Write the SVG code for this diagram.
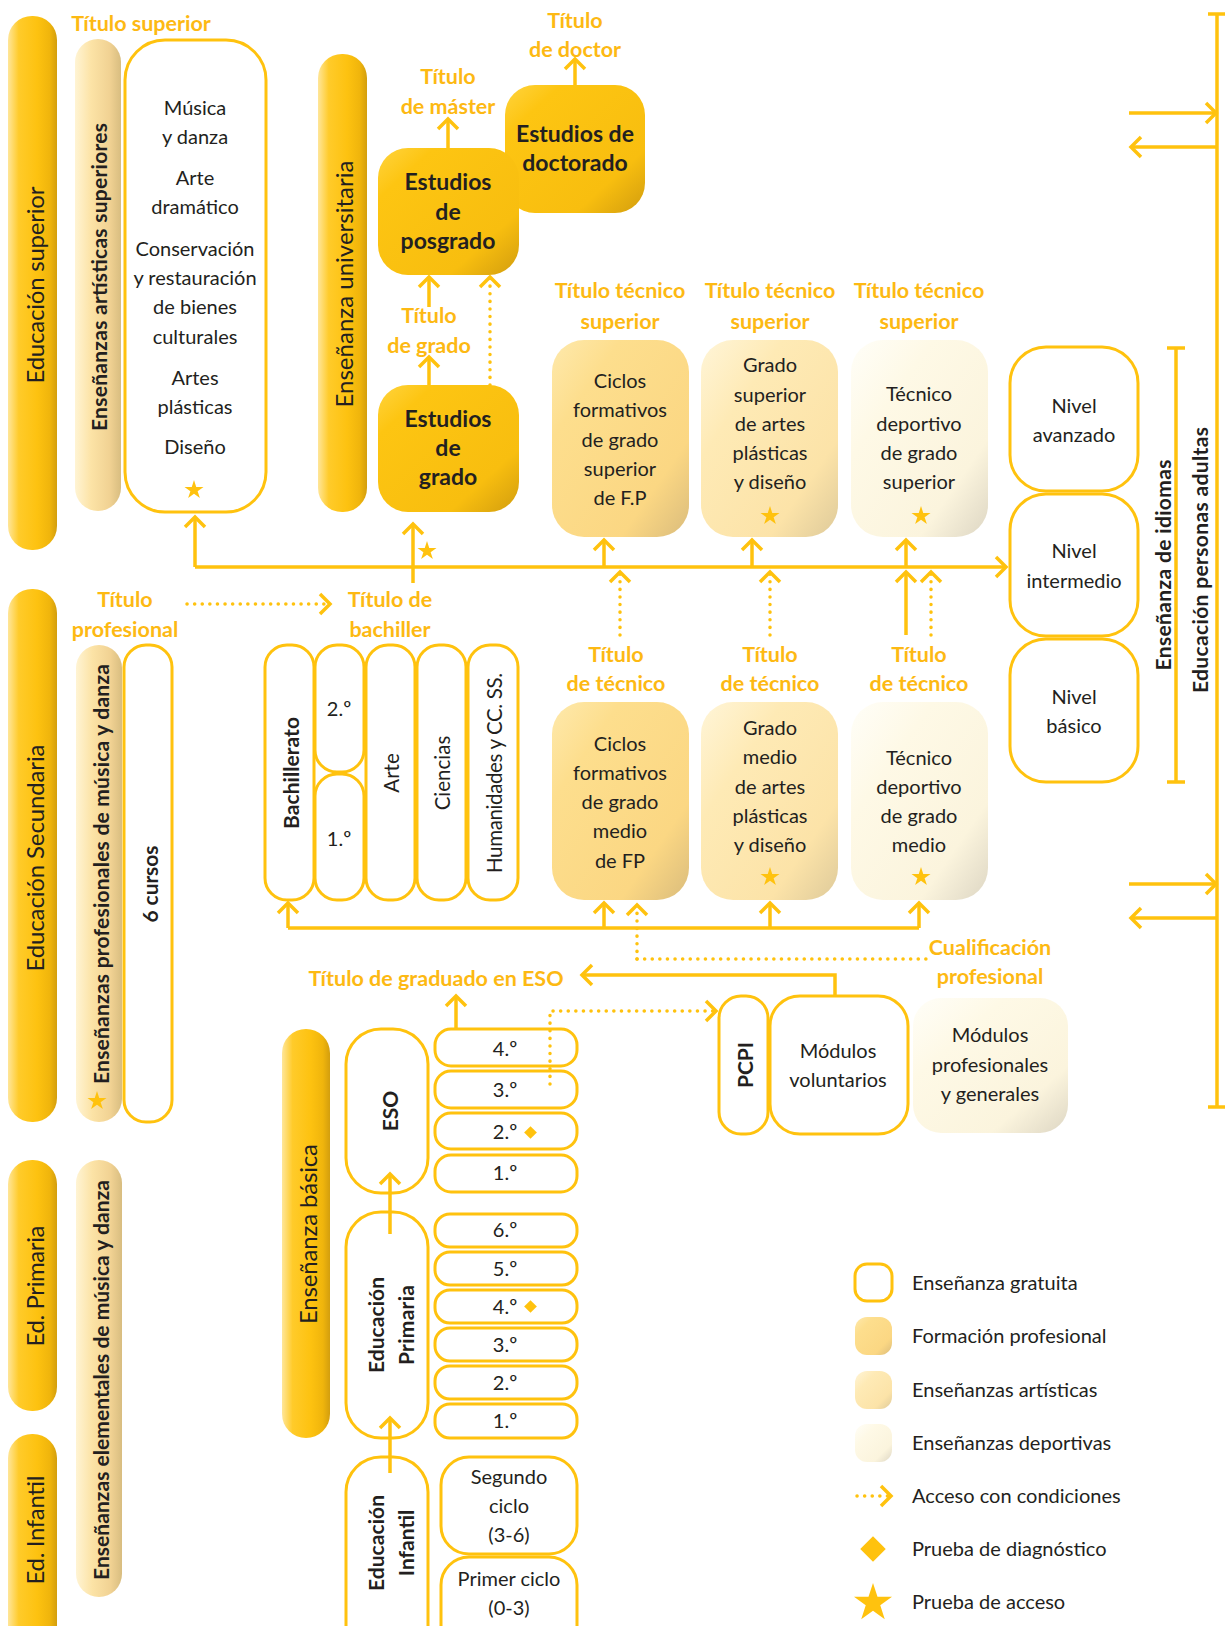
<svg xmlns="http://www.w3.org/2000/svg" width="1225" height="1626" viewBox="0 0 1225 1626">
<style>
text{font-family:Lato,"Open Sans","Liberation Sans",sans-serif}
.t{font-size:20px;fill:#231F20;text-anchor:middle}
.tb{font-size:23px;font-weight:700;fill:#231F20;text-anchor:middle}
.lb{font-size:21.5px;font-weight:700;fill:#FDB913;text-anchor:middle}
.vb{font-size:24px;fill:#231F20;text-anchor:middle;dominant-baseline:central}
.vs{font-size:21px;font-weight:700;fill:#231F20;text-anchor:middle;dominant-baseline:central}
.vr{font-size:20.5px;fill:#231F20;text-anchor:middle;dominant-baseline:central}
.box{fill:#fff;stroke:#FFC20E;stroke-width:3}
.con{fill:none;stroke:#FFC20E;stroke-width:3.5}
.dot{stroke-dasharray:0.1 7.5;stroke-linecap:round}
.st{fill:#FFC20E}
</style>
<defs>
<linearGradient id="gBar" x1="0" y1="0" x2="1" y2="0">
<stop offset="0" stop-color="#FFE69A"/><stop offset="0.22" stop-color="#FFCB2A"/><stop offset="0.6" stop-color="#FDC210"/><stop offset="0.85" stop-color="#F0B50C"/><stop offset="1" stop-color="#D39E0E"/>
</linearGradient>
<linearGradient id="gArtBar" x1="0" y1="0" x2="1" y2="0">
<stop offset="0" stop-color="#FFF4D4"/><stop offset="0.35" stop-color="#FCE3A6"/><stop offset="0.75" stop-color="#F1D293"/><stop offset="1" stop-color="#D8BD80"/>
</linearGradient>
<linearGradient id="gGold" x1="0" y1="0" x2="1" y2="1">
<stop offset="0" stop-color="#FFD43F"/><stop offset="0.2" stop-color="#FDC512"/><stop offset="0.75" stop-color="#F8BE0F"/><stop offset="1" stop-color="#D29D0E"/>
</linearGradient>
<linearGradient id="gFP" x1="0" y1="0" x2="1" y2="1">
<stop offset="0" stop-color="#FEE9AC"/><stop offset="0.25" stop-color="#FDDE8D"/><stop offset="0.75" stop-color="#FBD783"/><stop offset="1" stop-color="#DABC7C"/>
</linearGradient>
<linearGradient id="gArt" x1="0" y1="0" x2="1" y2="1">
<stop offset="0" stop-color="#FFF5D8"/><stop offset="0.3" stop-color="#FEEAB5"/><stop offset="0.75" stop-color="#FCE3A8"/><stop offset="1" stop-color="#DECA9A"/>
</linearGradient>
<linearGradient id="gSport" x1="0" y1="0" x2="1" y2="1">
<stop offset="0" stop-color="#FFFEF8"/><stop offset="0.3" stop-color="#FEF9E6"/><stop offset="0.75" stop-color="#FBF4DD"/><stop offset="1" stop-color="#DDD6C3"/>
</linearGradient>
<marker id="ah" viewBox="-13 -13 16 26" markerWidth="16" markerHeight="26" refX="0" refY="0" orient="auto" markerUnits="userSpaceOnUse">
<path d="M-10,-10 L0,0 L-10,10" fill="none" stroke="#FFC20E" stroke-width="3.5"/>
</marker>
<path id="star" d="M0,-10 L2.245,-3.09 L9.511,-3.09 L3.633,1.18 L5.878,8.09 L0,3.82 L-5.878,8.09 L-3.633,1.18 L-9.511,-3.09 L-2.245,-3.09 Z"/>
</defs>

<!-- stage bars -->
<g id="bar-superior"><rect x="8" y="16" width="49" height="534" rx="24" fill="url(#gBar)"/><text class="vb" transform="translate(34,285) rotate(-90)" textLength="197">Educación superior</text></g>
<g id="bar-secundaria"><rect x="8" y="589" width="49" height="533" rx="24" fill="url(#gBar)"/><text class="vb" transform="translate(34,858) rotate(-90)" textLength="227">Educación Secundaria</text></g>
<g id="bar-primaria"><rect x="8" y="1160" width="49" height="251" rx="24" fill="url(#gBar)"/><text class="vb" transform="translate(34,1286) rotate(-90)" textLength="121">Ed. Primaria</text></g>
<g id="bar-infantil"><rect x="8" y="1434" width="49" height="230" rx="24" fill="url(#gBar)"/><text class="vb" transform="translate(34,1530) rotate(-90)" textLength="109">Ed. Infantil</text></g>
<g id="bar-art-sup"><rect x="75" y="39" width="46" height="472" rx="23" fill="url(#gArtBar)"/><text class="vs" transform="translate(98,277) rotate(-90)" textLength="308">Enseñanzas artísticas superiores</text></g>
<g id="bar-art-prof"><rect x="76" y="645" width="46" height="477" rx="23" fill="url(#gArtBar)"/><text class="vs" transform="translate(100,874) rotate(-90)" textLength="420">Enseñanzas profesionales de música y danza</text><use href="#star" class="st" transform="translate(97,1101)"/></g>
<g id="bar-art-elem"><rect x="76" y="1160" width="46" height="437" rx="23" fill="url(#gArtBar)"/><text class="vs" transform="translate(100,1380) rotate(-90)" textLength="400">Enseñanzas elementales de música y danza</text></g>
<g id="bar-universitaria"><rect x="318" y="54" width="49" height="458" rx="24" fill="url(#gBar)"/><text class="vb" transform="translate(343,284) rotate(-90)" textLength="247">Enseñanza universitaria</text></g>
<g id="bar-basica"><rect x="282" y="1029" width="48" height="409" rx="24" fill="url(#gBar)"/><text class="vb" transform="translate(307,1234) rotate(-90)" textLength="180">Enseñanza básica</text></g>

<!-- labels -->
<g id="labels">
<text class="lb" x="141" y="31">Título superior</text>
<text class="lb" x="575" y="28">Título</text><text class="lb" x="575" y="57">de doctor</text>
<text class="lb" x="448" y="84">Título</text><text class="lb" x="448" y="114">de máster</text>
<text class="lb" x="429" y="323">Título</text><text class="lb" x="429" y="353">de grado</text>
<text class="lb" x="620" y="298">Título técnico</text><text class="lb" x="620" y="329">superior</text>
<text class="lb" x="770" y="298">Título técnico</text><text class="lb" x="770" y="329">superior</text>
<text class="lb" x="919" y="298">Título técnico</text><text class="lb" x="919" y="329">superior</text>
<text class="lb" x="125" y="607">Título</text><text class="lb" x="125" y="637">profesional</text>
<text class="lb" x="390" y="607">Título de</text><text class="lb" x="390" y="637">bachiller</text>
<text class="lb" x="616" y="662">Título</text><text class="lb" x="616" y="691">de técnico</text>
<text class="lb" x="770" y="662">Título</text><text class="lb" x="770" y="691">de técnico</text>
<text class="lb" x="919" y="662">Título</text><text class="lb" x="919" y="691">de técnico</text>
<text class="lb" x="990" y="955">Cualificación</text><text class="lb" x="990" y="984">profesional</text>
<text class="lb" x="436" y="986">Título de graduado en ESO</text>
</g>

<!-- superior -->
<g id="artisticas-superiores"><rect class="box" x="125" y="40" width="141" height="472" rx="40"/>
<text class="t" x="195" y="115">Música</text><text class="t" x="195" y="144">y danza</text>
<text class="t" x="195" y="185">Arte</text><text class="t" x="195" y="214">dramático</text>
<text class="t" x="195" y="256">Conservación</text><text class="t" x="195" y="285">y restauración</text><text class="t" x="195" y="314">de bienes</text><text class="t" x="195" y="344">culturales</text>
<text class="t" x="195" y="385">Artes</text><text class="t" x="195" y="414">plásticas</text>
<text class="t" x="195" y="454">Diseño</text>
<use href="#star" class="st" transform="translate(194,490)"/></g>
<g id="doctorado"><rect x="505" y="85" width="140" height="128" rx="30" fill="url(#gGold)"/><text class="tb" x="575" y="142">Estudios de</text><text class="tb" x="575" y="171">doctorado</text></g>
<g id="posgrado"><rect x="378" y="148" width="141" height="127" rx="30" fill="url(#gGold)"/><text class="tb" x="448" y="190">Estudios</text><text class="tb" x="448" y="220">de</text><text class="tb" x="448" y="249">posgrado</text></g>
<g id="grado"><rect x="378" y="385" width="141" height="127" rx="30" fill="url(#gGold)"/><text class="tb" x="448" y="427">Estudios</text><text class="tb" x="448" y="456">de</text><text class="tb" x="448" y="485">grado</text></g>

<g id="fp-superior"><rect x="552" y="340" width="137" height="197" rx="32" fill="url(#gFP)"/>
<text class="t" x="620" y="388">Ciclos</text><text class="t" x="620" y="417">formativos</text><text class="t" x="620" y="447">de grado</text><text class="t" x="620" y="476">superior</text><text class="t" x="620" y="505">de F.P</text></g>
<g id="artes-superior"><rect x="701" y="340" width="137" height="197" rx="32" fill="url(#gArt)"/>
<text class="t" x="770" y="372">Grado</text><text class="t" x="770" y="402">superior</text><text class="t" x="770" y="431">de artes</text><text class="t" x="770" y="460">plásticas</text><text class="t" x="770" y="489">y diseño</text>
<use href="#star" class="st" transform="translate(770,516)"/></g>
<g id="deportivo-superior"><rect x="851" y="340" width="137" height="197" rx="32" fill="url(#gSport)"/>
<text class="t" x="919" y="401">Técnico</text><text class="t" x="919" y="431">deportivo</text><text class="t" x="919" y="460">de grado</text><text class="t" x="919" y="489">superior</text>
<use href="#star" class="st" transform="translate(921,516)"/></g>

<g id="nivel-avanzado"><rect class="box" x="1010" y="347" width="128" height="144" rx="36"/><text class="t" x="1074" y="413">Nivel</text><text class="t" x="1074" y="442">avanzado</text></g>
<g id="nivel-intermedio"><rect class="box" x="1010" y="494" width="128" height="142" rx="36"/><text class="t" x="1074" y="558">Nivel</text><text class="t" x="1074" y="588">intermedio</text></g>
<g id="nivel-basico"><rect class="box" x="1010" y="639" width="128" height="143" rx="36"/><text class="t" x="1074" y="704">Nivel</text><text class="t" x="1074" y="733">básico</text></g>
<g id="idiomas-label"><text class="vs" transform="translate(1162,565) rotate(-90)" textLength="211">Enseñanza de idiomas</text></g>
<g id="adultas-label"><text class="vs" transform="translate(1199,560) rotate(-90)" textLength="266">Educación personas adultas</text></g>

<!-- secundaria -->
<g id="seis-cursos"><rect class="box" x="124" y="645" width="48" height="477" rx="22"/><text class="vs" transform="translate(149,884) rotate(-90)" textLength="77">6 cursos</text></g>
<g id="bachillerato"><rect class="box" x="265" y="645" width="49" height="255" rx="22"/><text class="vs" transform="translate(290,773) rotate(-90)" textLength="112">Bachillerato</text></g>
<g id="bach-2"><rect class="box" x="315" y="645" width="49" height="127" rx="22"/><text class="t" x="339" y="716">2.º</text></g>
<g id="bach-1"><rect class="box" x="315" y="774" width="49" height="126" rx="22"/><text class="t" x="339" y="846">1.º</text></g>
<g id="bach-arte"><rect class="box" x="366" y="645" width="49" height="255" rx="22"/><text class="vr" transform="translate(391,773) rotate(-90)">Arte</text></g>
<g id="bach-ciencias"><rect class="box" x="417" y="645" width="49" height="255" rx="22"/><text class="vr" transform="translate(442,773) rotate(-90)">Ciencias</text></g>
<g id="bach-humanidades"><rect class="box" x="468" y="645" width="50" height="255" rx="22"/><text class="vr" transform="translate(494,773) rotate(-90)" textLength="200">Humanidades y CC. SS.</text></g>

<g id="fp-medio"><rect x="552" y="702" width="137" height="198" rx="32" fill="url(#gFP)"/>
<text class="t" x="620" y="751">Ciclos</text><text class="t" x="620" y="780">formativos</text><text class="t" x="620" y="809">de grado</text><text class="t" x="620" y="838">medio</text><text class="t" x="620" y="868">de FP</text></g>
<g id="artes-medio"><rect x="701" y="702" width="137" height="198" rx="32" fill="url(#gArt)"/>
<text class="t" x="770" y="735">Grado</text><text class="t" x="770" y="764">medio</text><text class="t" x="770" y="794">de artes</text><text class="t" x="770" y="823">plásticas</text><text class="t" x="770" y="852">y diseño</text>
<use href="#star" class="st" transform="translate(770,877)"/></g>
<g id="deportivo-medio"><rect x="851" y="702" width="137" height="198" rx="32" fill="url(#gSport)"/>
<text class="t" x="919" y="765">Técnico</text><text class="t" x="919" y="794">deportivo</text><text class="t" x="919" y="823">de grado</text><text class="t" x="919" y="852">medio</text>
<use href="#star" class="st" transform="translate(921,877)"/></g>

<g id="pcpi"><rect class="box" x="719" y="996" width="49" height="138" rx="22"/><text class="vs" transform="translate(744,1065) rotate(-90)">PCPI</text></g>
<g id="modulos-voluntarios"><rect class="box" x="770" y="996" width="138" height="138" rx="30"/><text class="t" x="838" y="1058">Módulos</text><text class="t" x="838" y="1087">voluntarios</text></g>
<g id="modulos-profesionales"><rect x="913" y="998" width="155" height="135" rx="28" fill="url(#gSport)"/><text class="t" x="990" y="1042">Módulos</text><text class="t" x="990" y="1072">profesionales</text><text class="t" x="990" y="1101">y generales</text></g>

<!-- basica -->
<g id="eso"><rect class="box" x="346" y="1029" width="82" height="164" rx="35"/><text class="vs" transform="translate(389,1111) rotate(-90)">ESO</text></g>
<g id="eso-4"><rect class="box" x="435" y="1029" width="142" height="37" rx="16"/><text class="t" x="505" y="1056">4.º</text></g>
<g id="eso-3"><rect class="box" x="435" y="1071" width="142" height="37" rx="16"/><text class="t" x="505" y="1097">3.º</text></g>
<g id="eso-2"><rect class="box" x="435" y="1113" width="142" height="36" rx="16"/><text class="t" x="505" y="1139">2.º</text><rect x="526" y="1128" width="9" height="9" class="st" transform="rotate(45 530.5 1132.5)"/></g>
<g id="eso-1"><rect class="box" x="435" y="1155" width="142" height="37" rx="16"/><text class="t" x="505" y="1180">1.º</text></g>

<g id="primaria"><rect class="box" x="346" y="1212" width="82" height="226" rx="35"/><text class="vs" transform="translate(390,1325) rotate(-90)"><tspan x="0" y="-15" textLength="96">Educación</tspan><tspan x="0" y="15" textLength="80">Primaria</tspan></text></g>
<g id="prim-6"><rect class="box" x="435" y="1214" width="142" height="33" rx="15"/><text class="t" x="505" y="1237">6.º</text></g>
<g id="prim-5"><rect class="box" x="435" y="1252" width="142" height="33" rx="15"/><text class="t" x="505" y="1276">5.º</text></g>
<g id="prim-4"><rect class="box" x="435" y="1290" width="142" height="33" rx="15"/><text class="t" x="505" y="1314">4.º</text><rect x="526" y="1302" width="9" height="9" class="st" transform="rotate(45 530.5 1306.5)"/></g>
<g id="prim-3"><rect class="box" x="435" y="1328" width="142" height="33" rx="15"/><text class="t" x="505" y="1352">3.º</text></g>
<g id="prim-2"><rect class="box" x="435" y="1366" width="142" height="33" rx="15"/><text class="t" x="505" y="1390">2.º</text></g>
<g id="prim-1"><rect class="box" x="435" y="1404" width="142" height="34" rx="15"/><text class="t" x="505" y="1428">1.º</text></g>

<g id="infantil"><rect class="box" x="346" y="1457" width="82" height="210" rx="35"/><text class="vs" transform="translate(390,1543) rotate(-90)"><tspan x="0" y="-15" textLength="96">Educación</tspan><tspan x="0" y="15">Infantil</tspan></text></g>
<g id="segundo-ciclo"><rect class="box" x="441" y="1457" width="136" height="97" rx="28"/><text class="t" x="509" y="1484">Segundo</text><text class="t" x="509" y="1513">ciclo</text><text class="t" x="509" y="1542">(3-6)</text></g>
<g id="primer-ciclo"><rect class="box" x="441" y="1557" width="136" height="110" rx="28"/><text class="t" x="509" y="1586">Primer ciclo</text><text class="t" x="509" y="1615">(0-3)</text></g>

<!-- connectors -->
<g id="connectors">
<path class="con" d="M195,567 H1006" marker-end="url(#ah)"/>
<path class="con" d="M195,567 V517" marker-end="url(#ah)"/>
<path class="con" d="M413,583 V524" marker-end="url(#ah)"/>
<path class="con" d="M604,567 V540" marker-end="url(#ah)"/>
<path class="con" d="M752,567 V540" marker-end="url(#ah)"/>
<path class="con" d="M906,567 V540" marker-end="url(#ah)"/>
<path class="con" d="M906,635 V572" marker-end="url(#ah)"/>
<path class="con dot" d="M620,635 V572" marker-end="url(#ah)"/>
<path class="con dot" d="M770,635 V572" marker-end="url(#ah)"/>
<path class="con dot" d="M931,635 V572" marker-end="url(#ah)"/>
<path class="con" d="M448,148 V119" marker-end="url(#ah)"/>
<path class="con" d="M575,85 V59" marker-end="url(#ah)"/>
<path class="con" d="M429,385 V357" marker-end="url(#ah)"/>
<path class="con" d="M429,307 V277" marker-end="url(#ah)"/>
<path class="con dot" d="M490,385 V277" marker-end="url(#ah)"/>
<path class="con dot" d="M187,604 H330" marker-end="url(#ah)"/>
<path class="con" d="M288,928 H919"/>
<path class="con" d="M288,928 V903" marker-end="url(#ah)"/>
<path class="con" d="M604,928 V903" marker-end="url(#ah)"/>
<path class="con" d="M770,928 V903" marker-end="url(#ah)"/>
<path class="con" d="M919,928 V903" marker-end="url(#ah)"/>
<path class="con dot" d="M637,959 V905" marker-end="url(#ah)"/>
<path class="con dot" d="M637,959 H927"/>
<path class="con" d="M835,995 V975 H582" marker-end="url(#ah)"/>
<path class="con" d="M456,1029 V996" marker-end="url(#ah)"/>
<path class="con dot" d="M550,1084 V1011 H716" marker-end="url(#ah)"/>
<path class="con" d="M390,1234 V1174" marker-end="url(#ah)"/>
<path class="con" d="M390,1473 V1418" marker-end="url(#ah)"/>
<path class="con" d="M1217,14 V1107 M1208,14 H1226 M1208,1107 H1226"/>
<path class="con" d="M1129,113 H1216" marker-end="url(#ah)"/>
<path class="con" d="M1217,147 H1131" marker-end="url(#ah)"/>
<path class="con" d="M1129,884 H1216" marker-end="url(#ah)"/>
<path class="con" d="M1217,918 H1131" marker-end="url(#ah)"/>
<path class="con" d="M1176,348 V782 M1167,348 H1185 M1167,782 H1185"/>
<use href="#star" class="st" transform="translate(427,551)"/>
</g>

<!-- legend -->
<g id="legend">
<rect class="box" x="855" y="1264" width="37" height="37" rx="12"/>
<rect x="855" y="1317" width="37" height="38" rx="12" fill="url(#gFP)"/>
<rect x="855" y="1371" width="37" height="38" rx="12" fill="url(#gArt)"/>
<rect x="855" y="1424" width="37" height="38" rx="12" fill="url(#gSport)"/>
<path class="con dot" d="M857,1496 H891" marker-end="url(#ah)"/>
<rect x="864" y="1540" width="18" height="18" class="st" transform="rotate(45 873 1549)"/>
<use href="#star" class="st" transform="translate(873,1603) scale(2)"/>
<text class="t" x="912" y="1290" style="text-anchor:start">Enseñanza gratuita</text>
<text class="t" x="912" y="1343" style="text-anchor:start">Formación profesional</text>
<text class="t" x="912" y="1397" style="text-anchor:start">Enseñanzas artísticas</text>
<text class="t" x="912" y="1450" style="text-anchor:start">Enseñanzas deportivas</text>
<text class="t" x="912" y="1503" style="text-anchor:start">Acceso con condiciones</text>
<text class="t" x="912" y="1556" style="text-anchor:start">Prueba de diagnóstico</text>
<text class="t" x="912" y="1609" style="text-anchor:start">Prueba de acceso</text>
</g>
</svg>
